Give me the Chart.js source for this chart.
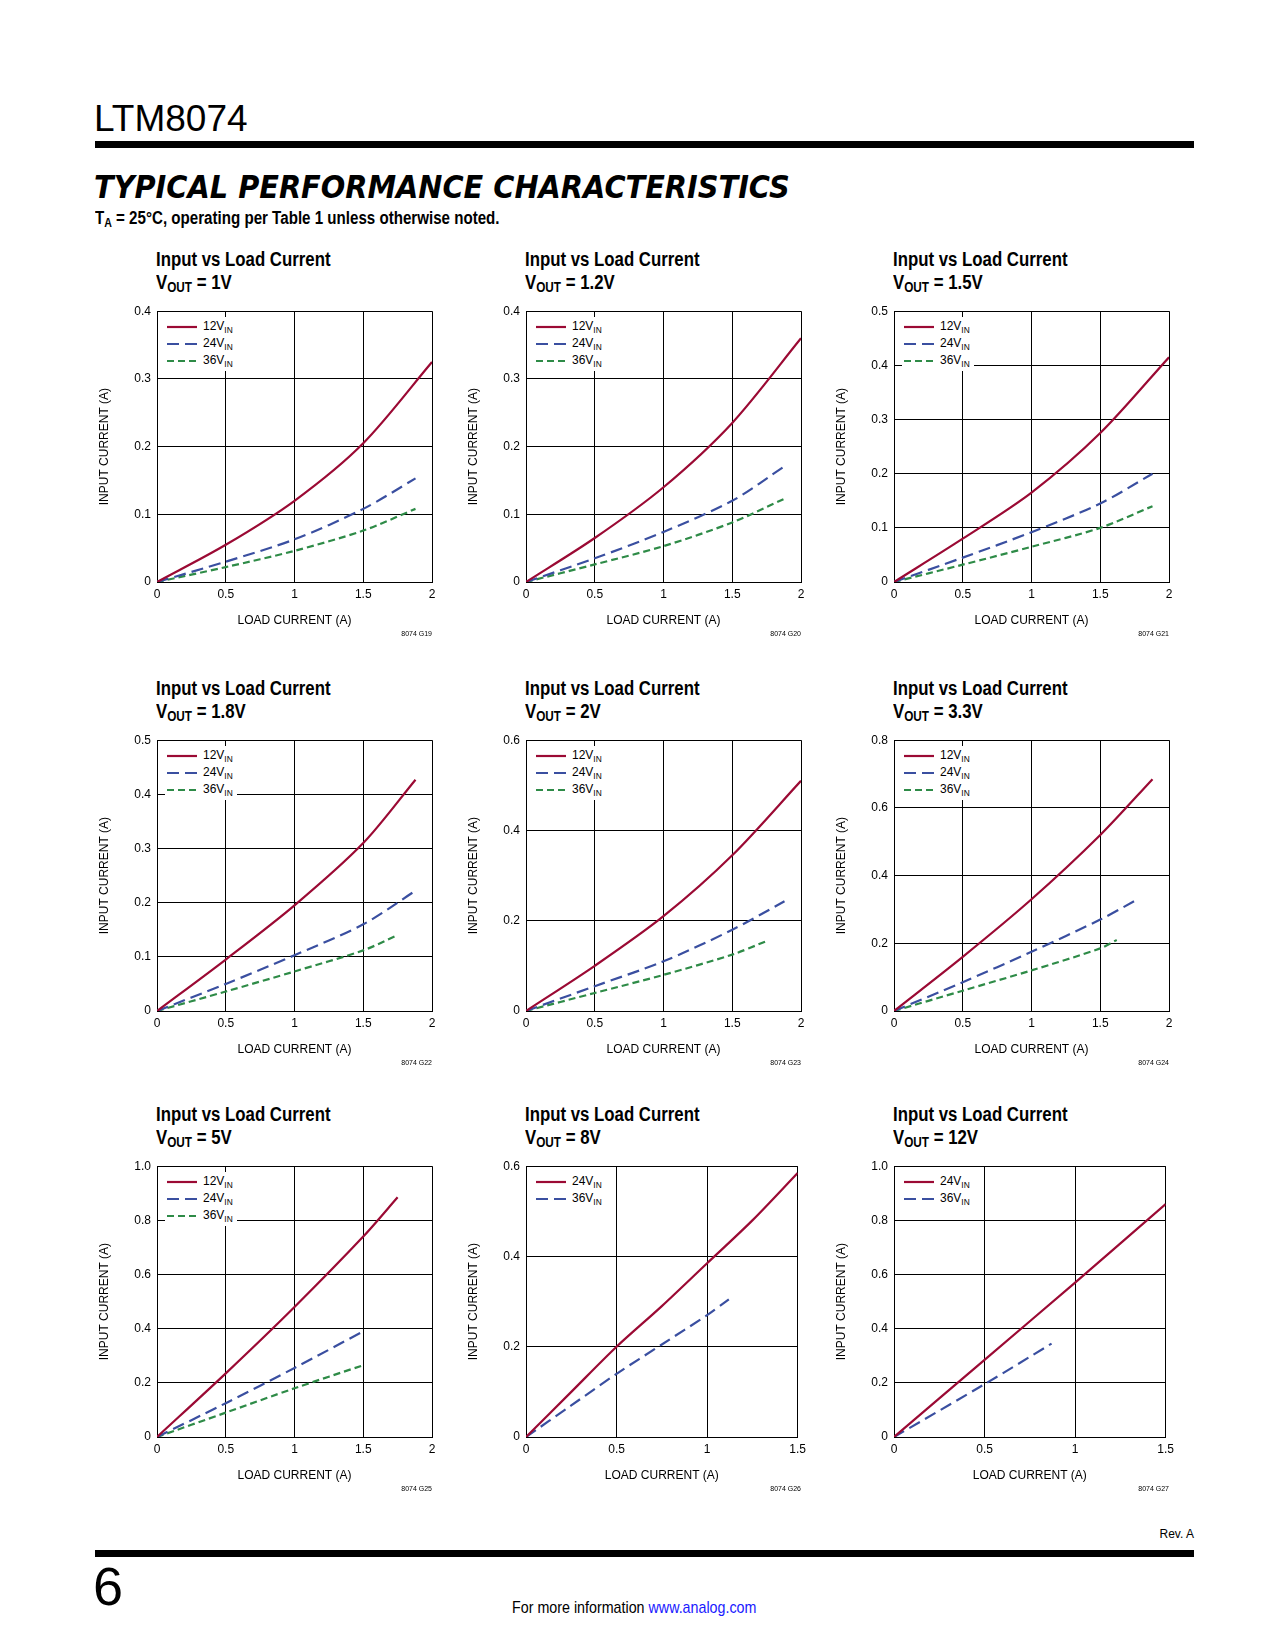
<!DOCTYPE html>
<html>
<head>
<meta charset="utf-8">
<script src="https://cdn.jsdelivr.net/npm/chart.js@4"></script>
<style>
body { margin:0; width:1275px; height:1650px; position:relative; background:#fff; font-family:"Liberation Sans","DejaVu Sans",sans-serif; color:#000; }
.abs { position:absolute; }
.nar { transform:scaleX(0.84); transform-origin:left top; white-space:nowrap; }
.ttl { font-weight:bold; font-size:20px; line-height:23px; }
.leg { background:#fff; font-size:12px; line-height:17px; padding:1px 4px 2px 2px; }
.leg div { white-space:nowrap; }
.leg svg { vertical-align:middle; margin-right:6px; }
sub { font-size:70%; vertical-align:-3px; line-height:0; }
.code { font-size:7px; }
</style>
</head>
<body>
<div class="abs" style="left:94px;top:98px;font-size:37px;">LTM8074</div>
<div class="abs" style="left:95px;top:141px;width:1099px;height:7px;background:#000;"></div>
<div class="abs nar" style="left:94px;top:168px;font-family:'DejaVu Sans',sans-serif;font-weight:900;font-style:italic;font-size:32px;transform:scaleX(0.9);">TYPICAL PERFORMANCE CHARACTERISTICS</div>
<div class="abs nar" style="left:95px;top:208px;font-weight:bold;font-size:18px;">T<sub>A</sub> = 25°C, operating per Table 1 unless otherwise noted.</div>
<div class="abs" style="right:81px;top:1527px;font-size:12px;">Rev. A</div>
<div class="abs" style="left:95px;top:1550px;width:1099px;height:7px;background:#000;"></div>
<div class="abs" style="left:93px;top:1555px;font-size:54px;">6</div>
<div class="abs nar" style="left:512px;top:1598px;font-size:17px;">For more information <span style="color:#1a1aff;">www.analog.com</span></div>
<script>
// Input vs load current, one set of arrays per VOUT
const load_1v = [0, 0.5, 1, 1.5, 2];
const in_1v_12 = [0, 0.055, 0.12, 0.205, 0.325];
const load_1v_b = [0, 0.5, 1, 1.5, 1.88];
const in_1v_24 = [0, 0.03, 0.063, 0.108, 0.153];
const in_1v_36 = [0, 0.022, 0.046, 0.076, 0.108];

const load_12v = [0, 0.5, 1, 1.5, 2];
const in_12v_12 = [0, 0.065, 0.14, 0.235, 0.36];
const load_12v_b = [0, 0.5, 1, 1.5, 1.88];
const in_12v_24 = [0, 0.035, 0.074, 0.12, 0.171];
const in_12v_36 = [0, 0.026, 0.053, 0.088, 0.123];

const load_15v = [0, 0.5, 1, 1.5, 2];
const in_15v_12 = [0, 0.08, 0.165, 0.275, 0.415];
const load_15v_b = [0, 0.5, 1, 1.5, 1.88];
const in_15v_24 = [0, 0.045, 0.092, 0.145, 0.2];
const in_15v_36 = [0, 0.032, 0.065, 0.1, 0.14];

const load_18v = [0, 0.5, 1, 1.5, 1.88];
const in_18v_12 = [0, 0.095, 0.195, 0.31, 0.427];
const in_18v_24 = [0, 0.05, 0.103, 0.16, 0.222];
const load_18v_c = [0, 0.5, 1, 1.5, 1.75];
const in_18v_36 = [0, 0.036, 0.073, 0.112, 0.14];

const load_2v = [0, 0.5, 1, 1.5, 2];
const in_2v_12 = [0, 0.1, 0.21, 0.345, 0.51];
const load_2v_b = [0, 0.5, 1, 1.5, 1.88];
const in_2v_24 = [0, 0.055, 0.11, 0.18, 0.243];
const load_2v_c = [0, 0.5, 1, 1.5, 1.75];
const in_2v_36 = [0, 0.04, 0.08, 0.125, 0.155];

const load_33v = [0, 0.5, 1, 1.5, 1.88];
const in_33v_12 = [0, 0.16, 0.33, 0.52, 0.685];
const load_33v_b = [0, 0.5, 1, 1.5, 1.75];
const in_33v_24 = [0, 0.085, 0.175, 0.27, 0.325];
const load_33v_c = [0, 0.5, 1, 1.5, 1.62];
const in_33v_36 = [0, 0.06, 0.12, 0.185, 0.21];

const load_5v = [0, 0.5, 1, 1.5, 1.75];
const in_5v_12 = [0, 0.235, 0.48, 0.74, 0.885];
const load_5v_b = [0, 0.5, 1, 1.5];
const in_5v_24 = [0, 0.125, 0.255, 0.39];
const in_5v_36 = [0, 0.09, 0.18, 0.265];

const load_8v = [0, 0.25, 0.5, 0.75, 1, 1.25, 1.5];
const in_8v_24 = [0, 0.1, 0.2, 0.29, 0.385, 0.48, 0.585];
const load_8v_b = [0, 0.25, 0.5, 0.75, 1, 1.12];
const in_8v_36 = [0, 0.07, 0.14, 0.205, 0.27, 0.305];

const load_12vo = [0, 0.5, 1, 1.5];
const in_12vo_24 = [0, 0.285, 0.57, 0.86];
const load_12vo_b = [0, 0.5, 0.87];
const in_12vo_36 = [0, 0.195, 0.345];

const RED = '#9b0a34', BLUE = '#3a4fa0', GREEN = '#2e8b47';
const DASH_24 = [12, 6], DASH_36 = [7, 4];
const FONTE = {size: 12, family: 'Liberation Sans'};

const colLeft = [157, 526, 894];
const rowTop = [308, 737, 1163];
const PW = 275, PH = 274;

function pts(xs, ys) {
    return xs.map((x, i) => ({x: x, y: ys[i]}));
}

function serie(label, xs, ys, color, dash) {
    return {label: label, data: pts(xs, ys), borderColor: color, borderWidth: 2.2,
        borderDash: dash, pointRadius: 0, tension: 0.3, fill: false};
}

function legendLine(color, dash) {
    const da = dash.length ? 'stroke-dasharray="' + dash.join(',') + '"' : '';
    return '<svg width="30" height="6"><line x1="0" y1="3" x2="30" y2="3" stroke="' + color +
        '" stroke-width="2.2" ' + da + '/></svg>';
}

function desenha(col, row, vout, xmax, ymax, ystep, series, code) {
    const L = colLeft[col], T = rowTop[row];
    const t = document.createElement('div');
    t.className = 'abs ttl nar';
    t.style.left = (L - 1) + 'px';
    t.style.top = (T - 60) + 'px';
    t.innerHTML = 'Input vs Load Current<br>V<sub>OUT</sub> = ' + vout;
    document.body.appendChild(t);

    const box = document.createElement('div');
    box.className = 'abs';
    box.style.left = (L - 60) + 'px';
    box.style.top = (T - 10) + 'px';
    box.style.width = (PW + 70) + 'px';
    box.style.height = (PH + 60) + 'px';
    const cv = document.createElement('canvas');
    box.appendChild(cv);
    document.body.appendChild(box);

    new Chart(cv, {
        type: 'line',
        data: {datasets: series},
        options: {
            responsive: true, maintainAspectRatio: false, animation: false,
            layout: {padding: {top: 10, right: 10, left: 0, bottom: 0}},
            plugins: {legend: {display: false}, tooltip: {enabled: false}},
            scales: {
                x: {type: 'linear', min: 0, max: xmax,
                    ticks: {stepSize: 0.5, color: '#000', font: FONTE, padding: 5,
                        callback: v => String(v)},
                    grid: {color: '#000', lineWidth: 1, drawTicks: false},
                    border: {color: '#000', width: 1},
                    title: {display: true, text: 'LOAD CURRENT (A)', color: '#000', padding: {top: 4},
                        font: FONTE},
                    afterFit: s => { s.height = 50; }},
                y: {min: 0, max: ymax,
                    ticks: {stepSize: ystep, color: '#000', font: FONTE, padding: 6,
                        callback: v => v === 0 ? '0' : v.toFixed(1)},
                    grid: {color: '#000', lineWidth: 1, drawTicks: false},
                    border: {color: '#000', width: 1},
                    title: {display: true, text: 'INPUT CURRENT (A)', color: '#000', padding: 0,
                        font: FONTE},
                    afterFit: s => { s.width = 60; }}
            }
        }
    });

    const lg = document.createElement('div');
    lg.className = 'abs leg';
    lg.style.left = (L + 8) + 'px';
    lg.style.top = (T + 9) + 'px';
    lg.innerHTML = series.map(s => '<div>' + legendLine(s.borderColor, s.borderDash) +
        s.label.replace('VIN', 'V<sub>IN</sub>') + '</div>').join('');
    document.body.appendChild(lg);

    const c = document.createElement('div');
    c.className = 'abs code';
    c.style.left = (L + PW - 60) + 'px';
    c.style.width = '60px';
    c.style.textAlign = 'right';
    c.style.top = (T + PH + 48) + 'px';
    c.textContent = code;
    document.body.appendChild(c);
}

desenha(0, 0, '1V', 2, 0.4, 0.1, [
    serie('12VIN', load_1v, in_1v_12, RED, []),
    serie('24VIN', load_1v_b, in_1v_24, BLUE, DASH_24),
    serie('36VIN', load_1v_b, in_1v_36, GREEN, DASH_36)], '8074 G19');
desenha(1, 0, '1.2V', 2, 0.4, 0.1, [
    serie('12VIN', load_12v, in_12v_12, RED, []),
    serie('24VIN', load_12v_b, in_12v_24, BLUE, DASH_24),
    serie('36VIN', load_12v_b, in_12v_36, GREEN, DASH_36)], '8074 G20');
desenha(2, 0, '1.5V', 2, 0.5, 0.1, [
    serie('12VIN', load_15v, in_15v_12, RED, []),
    serie('24VIN', load_15v_b, in_15v_24, BLUE, DASH_24),
    serie('36VIN', load_15v_b, in_15v_36, GREEN, DASH_36)], '8074 G21');
desenha(0, 1, '1.8V', 2, 0.5, 0.1, [
    serie('12VIN', load_18v, in_18v_12, RED, []),
    serie('24VIN', load_18v, in_18v_24, BLUE, DASH_24),
    serie('36VIN', load_18v_c, in_18v_36, GREEN, DASH_36)], '8074 G22');
desenha(1, 1, '2V', 2, 0.6, 0.2, [
    serie('12VIN', load_2v, in_2v_12, RED, []),
    serie('24VIN', load_2v_b, in_2v_24, BLUE, DASH_24),
    serie('36VIN', load_2v_c, in_2v_36, GREEN, DASH_36)], '8074 G23');
desenha(2, 1, '3.3V', 2, 0.8, 0.2, [
    serie('12VIN', load_33v, in_33v_12, RED, []),
    serie('24VIN', load_33v_b, in_33v_24, BLUE, DASH_24),
    serie('36VIN', load_33v_c, in_33v_36, GREEN, DASH_36)], '8074 G24');
desenha(0, 2, '5V', 2, 1.0, 0.2, [
    serie('12VIN', load_5v, in_5v_12, RED, []),
    serie('24VIN', load_5v_b, in_5v_24, BLUE, DASH_24),
    serie('36VIN', load_5v_b, in_5v_36, GREEN, DASH_36)], '8074 G25');
desenha(1, 2, '8V', 1.5, 0.6, 0.2, [
    serie('24VIN', load_8v, in_8v_24, RED, []),
    serie('36VIN', load_8v_b, in_8v_36, BLUE, DASH_24)], '8074 G26');
desenha(2, 2, '12V', 1.5, 1.0, 0.2, [
    serie('24VIN', load_12vo, in_12vo_24, RED, []),
    serie('36VIN', load_12vo_b, in_12vo_36, BLUE, DASH_24)], '8074 G27');
</script>
</body>
</html>
